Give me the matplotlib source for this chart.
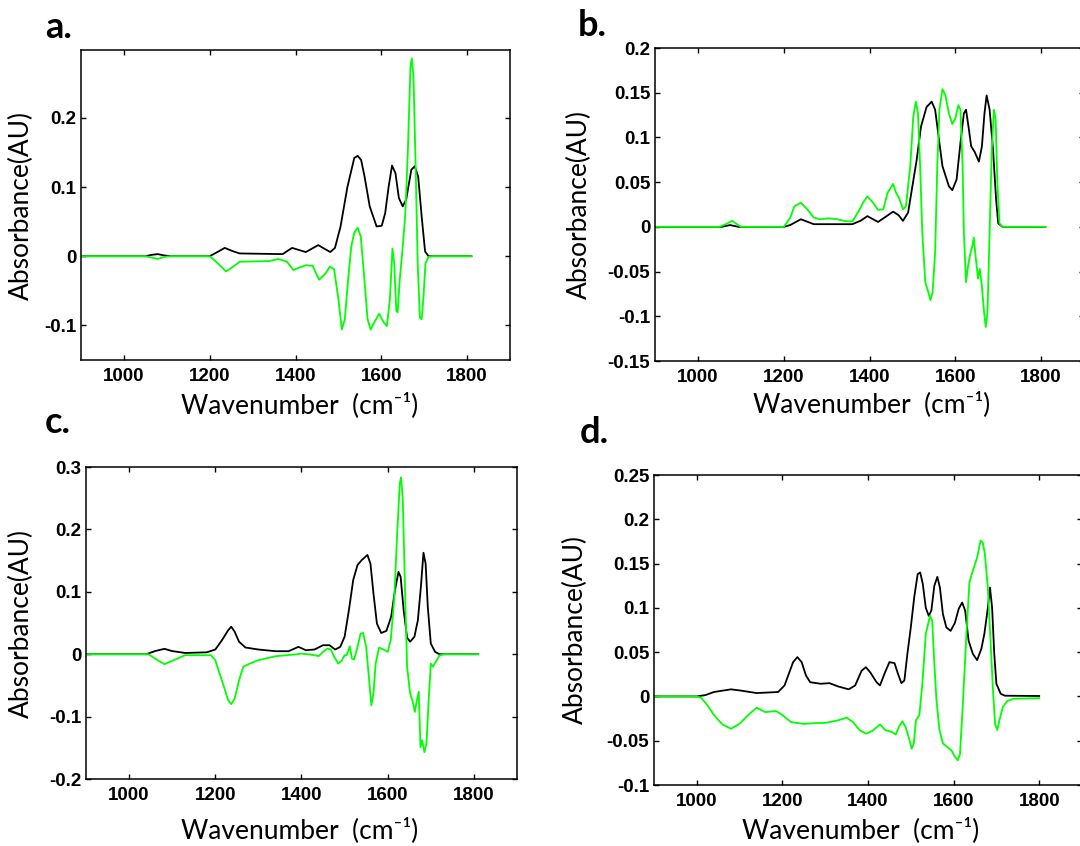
import numpy as np
import matplotlib
matplotlib.use("Agg")
import matplotlib.pyplot as plt
from matplotlib.ticker import FuncFormatter, MultipleLocator

plt.rcParams['axes.unicode_minus'] = False

# ---- panel a ----
a_black_x = [900, 1050, 1065, 1079, 1095, 1110, 1200, 1215, 1235, 1255,
             1270, 1370, 1392, 1424, 1453, 1481, 1492, 1505, 1521, 1537,
             1545, 1553, 1561, 1573, 1589, 1601, 1609, 1617, 1625, 1633,
             1641, 1650, 1658, 1670, 1678, 1686, 1694, 1702, 1710, 1810]
a_black_y = [0, 0, 0.002, 0.003, 0.001, 0, 0, 0.005, 0.012, 0.007,
             0.004, 0.003, 0.012, 0.006, 0.016, 0.006, 0.012, 0.043, 0.100, 0.142,
             0.145, 0.139, 0.115, 0.072, 0.043, 0.044, 0.062, 0.100, 0.131, 0.120,
             0.084, 0.072, 0.082, 0.125, 0.130, 0.115, 0.058, 0.007, 0, 0]
a_green_x = [900, 1050, 1065, 1079, 1095, 1110, 1200, 1215, 1238, 1255,
             1270, 1340, 1360, 1380, 1395, 1410, 1425, 1440, 1455, 1470,
             1480, 1490, 1500, 1508, 1515, 1522, 1530, 1537, 1545, 1552,
             1560, 1568, 1575, 1585, 1595, 1605, 1613, 1620, 1626, 1630,
             1635, 1638, 1643, 1650, 1656, 1662, 1668, 1671, 1675, 1680,
             1685, 1690, 1694, 1698, 1703, 1710, 1720, 1810]
a_green_y = [0, 0, -0.002, -0.004, -0.001, 0, 0, -0.008, -0.022, -0.015,
             -0.008, -0.007, -0.004, -0.008, -0.020, -0.016, -0.013, -0.014, -0.034, -0.025,
             -0.015, -0.019, -0.062, -0.106, -0.091, -0.038, 0.014, 0.034, 0.041, 0.029,
             -0.029, -0.091, -0.106, -0.094, -0.083, -0.095, -0.101, -0.062, 0.011, -0.010,
             -0.079, -0.081, -0.034, 0.014, 0.062, 0.154, 0.274, 0.286, 0.260, 0.130,
             -0.014, -0.089, -0.091, -0.062, -0.010, -0.001, 0, 0]
a_yticks = [-0.1, 0, 0.1, 0.2]

# ---- panel b ----
b_black_x = [900, 1055, 1075, 1095, 1200, 1215, 1240, 1270, 1360, 1380,
             1395, 1420, 1440, 1455, 1468, 1478, 1490, 1500, 1510, 1520,
             1533, 1545, 1553, 1560, 1570, 1585, 1593, 1603, 1612, 1620,
             1625, 1632, 1637, 1645, 1655, 1662, 1668, 1673, 1680, 1688,
             1695, 1700, 1710, 1810]
b_black_y = [0, 0, 0.002, 0, 0, 0.002, 0.0085, 0.003, 0.003, 0.007,
             0.012, 0.0055, 0.012, 0.017, 0.013, 0.0067, 0.016, 0.0455, 0.075, 0.112,
             0.134, 0.140, 0.131, 0.105, 0.068, 0.0455, 0.041, 0.053, 0.094, 0.127,
             0.131, 0.108, 0.090, 0.084, 0.073, 0.090, 0.127, 0.147, 0.131, 0.086,
             0.031, 0.004, 0, 0]
b_green_x = [900, 1050, 1065, 1080, 1100, 1200, 1215, 1225, 1240, 1255,
             1270, 1285, 1305, 1325, 1345, 1360, 1375, 1385, 1395, 1405,
             1420, 1432, 1442, 1455, 1462, 1470, 1478, 1485, 1495, 1502,
             1508, 1513, 1518, 1523, 1530, 1537, 1542, 1547, 1553, 1558,
             1563, 1570, 1577, 1585, 1593, 1600, 1607, 1612, 1617, 1620,
             1625, 1630, 1635, 1640, 1643, 1648, 1653, 1657, 1662, 1667,
             1671, 1675, 1680, 1685, 1690, 1694, 1698, 1703, 1710, 1810]
b_green_y = [0, 0, 0.003, 0.0067, 0, 0, 0.010, 0.023, 0.027, 0.0196,
             0.0104, 0.0085, 0.0096, 0.0085, 0.0063, 0.006, 0.0178, 0.027, 0.034, 0.029,
             0.019, 0.0196, 0.038, 0.048, 0.038, 0.031, 0.0196, 0.023, 0.068, 0.123,
             0.140, 0.127, 0.068, -0.006, -0.062, -0.073, -0.082, -0.073, -0.0285, 0.068,
             0.131, 0.154, 0.147, 0.127, 0.115, 0.121, 0.136, 0.131, 0.068, -0.006,
             -0.062, -0.043, -0.030, -0.021, -0.012, -0.036, -0.058, -0.047, -0.066, -0.095,
             -0.112, -0.095, -0.006, 0.086, 0.131, 0.120, 0.049, 0.004, 0, 0]
b_yticks = [-0.15, -0.1, -0.05, 0, 0.05, 0.1, 0.15, 0.2]

# ---- panel c ----
c_black_x = [900, 1040, 1060, 1082, 1100, 1130, 1180, 1200, 1215, 1230,
             1237, 1245, 1255, 1270, 1300, 1340, 1370, 1393, 1410, 1430,
             1450, 1465, 1478, 1490, 1500, 1510, 1520, 1530, 1540, 1553,
             1560, 1567, 1575, 1585, 1597, 1608, 1617, 1625, 1630, 1637,
             1645, 1652, 1662, 1670, 1677, 1683, 1688, 1693, 1700, 1710,
             1720, 1810]
c_black_y = [0, 0, 0.005, 0.0086, 0.005, 0.002, 0.003, 0.0075, 0.022, 0.0385,
             0.044, 0.036, 0.020, 0.0107, 0.0075, 0.0048, 0.0048, 0.0118, 0.0064, 0.0075,
             0.0144, 0.0144, 0.0075, 0.0118, 0.028, 0.0706, 0.119, 0.143, 0.151, 0.159,
             0.145, 0.097, 0.049, 0.034, 0.0374, 0.060, 0.103, 0.132, 0.124, 0.0706,
             0.0267, 0.020, 0.028, 0.0545, 0.108, 0.1626, 0.145, 0.076, 0.017, 0.0037,
             0, 0]
c_green_x = [900, 1045, 1060, 1082, 1100, 1130, 1190, 1200, 1210, 1220,
             1230, 1237, 1245, 1255, 1265, 1280, 1300, 1340, 1390, 1400,
             1420, 1440, 1450, 1460, 1468, 1475, 1485, 1493, 1500, 1505,
             1512, 1517, 1522, 1530, 1537, 1543, 1550, 1557, 1562, 1567,
             1572, 1580, 1590, 1600, 1607, 1615, 1622, 1628, 1631, 1635,
             1640, 1645, 1652, 1658, 1663, 1667, 1672, 1676, 1680, 1685,
             1690, 1695, 1700, 1705, 1712, 1720, 1730, 1810]
c_green_y = [0, 0, -0.007, -0.016, -0.0107, -0.0016, -0.0016, -0.0096, -0.031, -0.052,
             -0.074, -0.080, -0.071, -0.042, -0.020, -0.015, -0.0096, -0.0032, 0, 0.001,
             -0.0005, -0.003, 0.0037, 0.009, 0.0075, -0.003, -0.015, -0.0107, -0.0016, -0.0016,
             0.0128, -0.007, -0.0086, 0.0118, 0.033, 0.034, 0.0118, -0.042, -0.082, -0.063,
             -0.015, 0.0107, 0.0075, 0.0037, 0.0225, 0.0866, 0.1936, 0.274, 0.283, 0.247,
             0.108, -0.020, -0.063, -0.076, -0.0925, -0.076, -0.060, -0.149, -0.138, -0.157,
             -0.143, -0.074, -0.015, -0.020, -0.012, -0.002, 0, 0]
c_yticks = [-0.2, -0.1, 0, 0.1, 0.2, 0.3]

# ---- panel d ----
d_black_x = [900, 1000, 1020, 1040, 1080, 1100, 1140, 1190, 1205, 1215,
             1225, 1235, 1245, 1255, 1265, 1290, 1310, 1330, 1355, 1370,
             1385, 1395, 1405, 1420, 1428, 1440, 1450, 1462, 1470, 1478,
             1485, 1492, 1500, 1508, 1516, 1522, 1528, 1535, 1542, 1548,
             1555, 1562, 1568, 1575, 1583, 1593, 1603, 1612, 1620, 1627,
             1635, 1645, 1655, 1665, 1672, 1680, 1685, 1690, 1695, 1700,
             1710, 1720, 1800]
d_black_y = [0, 0, 0.0015, 0.005, 0.008, 0.0068, 0.0038, 0.005, 0.0124, 0.0256,
             0.0387, 0.0444, 0.0387, 0.0237, 0.016, 0.0143, 0.015, 0.0113, 0.008, 0.0124,
             0.029, 0.033, 0.0274, 0.016, 0.0124, 0.0274, 0.0387, 0.0376, 0.0256, 0.015,
             0.018, 0.048, 0.078, 0.112, 0.138, 0.140, 0.127, 0.100, 0.091, 0.097,
             0.125, 0.135, 0.123, 0.093, 0.078, 0.074, 0.083, 0.099, 0.106, 0.097,
             0.063, 0.048, 0.041, 0.054, 0.071, 0.100, 0.123, 0.100, 0.048, 0.0143,
             0.003, 0.0008, 0.0005]
d_green_x = [900, 1000, 1010, 1025, 1040, 1060, 1080, 1100, 1120, 1140,
             1160, 1185, 1200, 1220, 1250, 1280, 1300, 1330, 1350, 1365,
             1380, 1395, 1410, 1428, 1440, 1455, 1465, 1472, 1480, 1488,
             1495, 1502, 1507, 1512, 1520, 1527, 1535, 1545, 1550, 1555,
             1560, 1567, 1575, 1585, 1595, 1603, 1610, 1615, 1622, 1630,
             1637, 1645, 1655, 1663, 1668, 1673, 1680, 1687, 1692, 1697,
             1702, 1707, 1715, 1725, 1740, 1800]
d_green_y = [0, 0, -0.0015, -0.010, -0.021, -0.0316, -0.0365, -0.0308, -0.021, -0.0128,
             -0.0177, -0.0165, -0.021, -0.029, -0.031, -0.030, -0.030, -0.027, -0.024, -0.029,
             -0.038, -0.042, -0.039, -0.0316, -0.038, -0.040, -0.043, -0.0346, -0.028, -0.0346,
             -0.046, -0.059, -0.053, -0.027, -0.021, 0.0143, 0.0707, 0.091, 0.0857, 0.0368,
             -0.0045, -0.038, -0.053, -0.057, -0.061, -0.068, -0.072, -0.065, -0.0045, 0.0707,
             0.129, 0.142, 0.157, 0.176, 0.174, 0.161, 0.123, 0.0556, 0.0068, -0.031,
             -0.038, -0.027, -0.012, -0.0053, -0.0026, -0.002]
d_yticks = [-0.1, -0.05, 0, 0.05, 0.1, 0.15, 0.2, 0.25]

x_ticks = [1000, 1200, 1400, 1600, 1800]

W, H = 1080, 846

# label, box (left, top, right, bottom px), ylim, yticks, curves,
# label pos, ylabel right edge px, xlabel centre / baseline px
panels = [
    ("a.", (81, 50, 510, 360), (-0.15, 0.298), a_yticks,
     (a_black_x, a_black_y, a_green_x, a_green_y), (45, 38), 34, (300, 413)),
    ("b.", (655, 48, 1084, 361), (-0.15, 0.2), b_yticks,
     (b_black_x, b_black_y, b_green_x, b_green_y), (578, 36), 592, (872, 412)),
    ("c.", (86, 467, 517, 779), (-0.2, 0.3), c_yticks,
     (c_black_x, c_black_y, c_green_x, c_green_y), (45, 433), 34, (300, 838)),
    ("d.", (654, 475, 1082, 785), (-0.1, 0.25), d_yticks,
     (d_black_x, d_black_y, d_green_x, d_green_y), (580, 443), 588, (861, 838)),
]

fig = plt.figure(figsize=(W / 100, H / 100), dpi=100)

def fmt(v, pos):
    s = "%g" % round(v, 4)
    return "0" if s in ("0", "-0") else s

for label, (l, t, r, b), ylim, yticks, (bx, by, gx, gy), lpos, ylx, (xlc, xlb) in panels:
    ax = fig.add_axes([l / W, 1 - b / H, (r - l) / W, (b - t) / H])
    ax.plot(bx, by, color='black', lw=1.3)
    ax.plot(gx, gy, color='#00ff00', lw=1.3)
    ax.set_xlim(900, 1900)
    ax.set_ylim(*ylim)
    ax.set_xticks(x_ticks)
    ax.set_yticks(yticks)
    ax.yaxis.set_major_formatter(FuncFormatter(fmt))
    ax.tick_params(direction='in', top=True, right=True, length=3.5, width=1,
                   labelsize=13.5)
    ax.tick_params(axis='x', pad=6)
    ax.tick_params(axis='y', pad=3.5)
    for tl in ax.get_xticklabels() + ax.get_yticklabels():
        tl.set_fontfamily('Liberation Sans')
        tl.set_fontweight('bold')
    for sp in ax.spines.values():
        sp.set_linewidth(1.1)

    ax.set_ylabel("Absorbance(AU)", fontsize=19, fontfamily='Lato')
    ax.yaxis.set_label_coords((ylx - l) / (r - l), 0.5)
    ax.set_xlabel("Wavenumber  (cm\u207b\u00b9)", fontsize=19,
                  fontfamily=['Lato', 'DejaVu Sans'], va='baseline')
    ax.xaxis.set_label_coords((xlc - l) / (r - l), -(xlb - b) / (b - t))

    fig.text(lpos[0] / W, 1 - lpos[1] / H, label, fontsize=26,
             fontfamily='Lato', fontweight='bold', va='baseline', ha='left')

fig.savefig("out.png", dpi=100)
